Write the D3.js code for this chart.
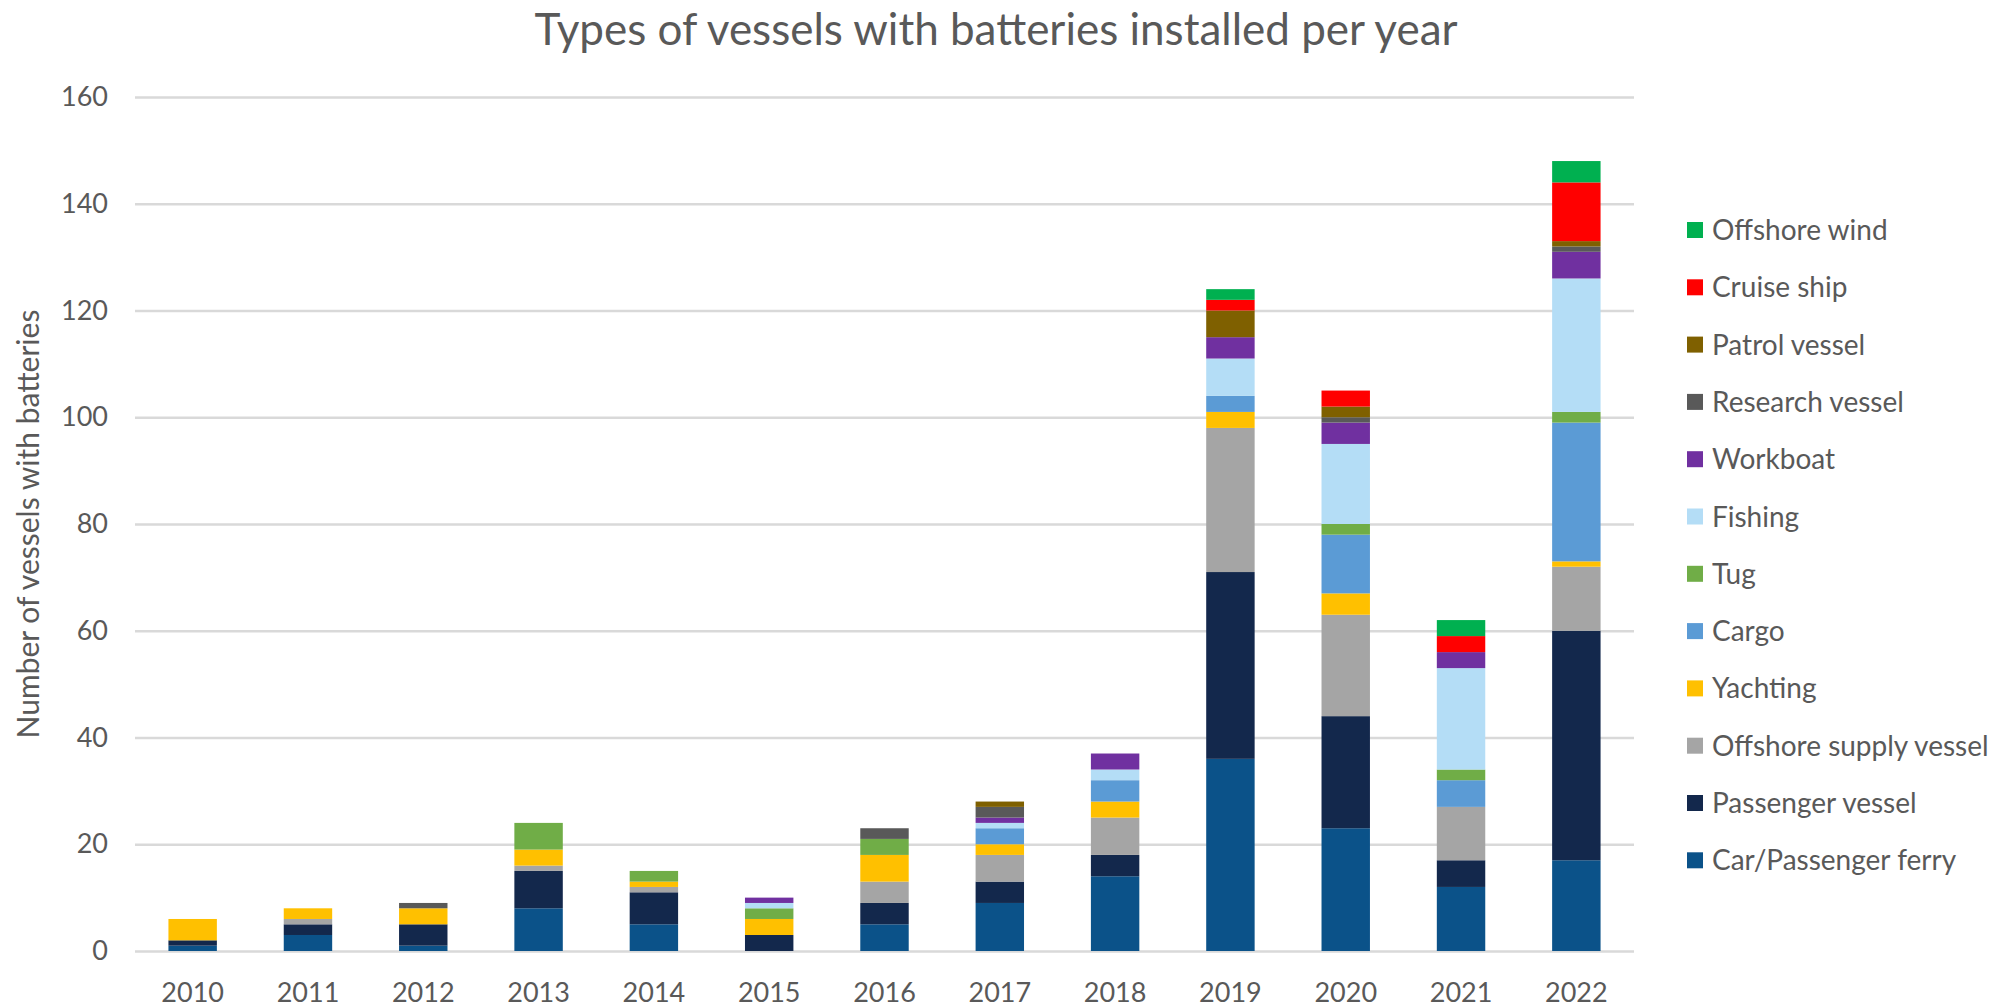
<!DOCTYPE html>
<html>
<head>
<meta charset="utf-8">
<script src="https://cdn.jsdelivr.net/npm/d3@7"></script>
<style>
	body { margin: 0; background: #fff; }
	text { font-family: Lato, "Open Sans", sans-serif; fill: #595959; }
</style>
</head>
<body>
<div id="vis"></div>
<script>
// data
var years = ["2010","2011","2012","2013","2014","2015","2016","2017","2018","2019","2020","2021","2022"];

// bottom to top of each stack
var seriesNames = ["Car/Passenger ferry", "Passenger vessel", "Offshore supply vessel", "Yachting", "Cargo", "Tug",
	"Fishing", "Workboat", "Research vessel", "Patrol vessel", "Cruise ship", "Offshore wind"];

var ferry     = [1, 3, 1, 8, 5, 0, 5, 9, 14, 36, 23, 12, 17];
var passenger = [1, 2, 4, 7, 6, 3, 4, 4, 4, 35, 21, 5, 43];
var supply    = [0, 1, 0, 1, 1, 0, 4, 5, 7, 27, 19, 10, 12];
var yachting  = [4, 2, 3, 3, 1, 3, 5, 2, 3, 3, 4, 0, 1];
var cargo     = [0, 0, 0, 0, 0, 0, 0, 3, 4, 3, 11, 5, 26];
var tug       = [0, 0, 0, 5, 2, 2, 3, 0, 0, 0, 2, 2, 2];
var fishing   = [0, 0, 0, 0, 0, 1, 0, 1, 2, 7, 15, 19, 25];
var workboat  = [0, 0, 0, 0, 0, 1, 0, 1, 3, 4, 4, 3, 5];
var research  = [0, 0, 1, 0, 0, 0, 2, 2, 0, 0, 1, 0, 1];
var patrol    = [0, 0, 0, 0, 0, 0, 0, 1, 0, 5, 2, 0, 1];
var cruise    = [0, 0, 0, 0, 0, 0, 0, 0, 0, 2, 3, 3, 11];
var wind      = [0, 0, 0, 0, 0, 0, 0, 0, 0, 2, 0, 3, 4];

var seriesValues = [ferry, passenger, supply, yachting, cargo, tug, fishing, workboat, research, patrol, cruise, wind];
var yTicks = [0, 20, 40, 60, 80, 100, 120, 140, 160];

var colors = d3.scaleOrdinal()
	.domain(seriesNames)
	.range(["#0b5289", "#13284c", "#a5a5a5", "#ffc000", "#5b9bd5", "#70ad47",
		"#b4ddf6", "#7030a0", "#595959", "#7f6000", "#ff0000", "#00b050"]);

// Layout Settings
var W = 2000, H = 1007;
var margin = {top: 97, right: 366, bottom: 56, left: 135},
	width = W - margin.left - margin.right,
	height = H - margin.top - margin.bottom;

var svg = d3.select("#vis")
	.append("svg")
	.attr("width", W)
	.attr("height", H);

// rows for the stack
var table = years.map(function(yr, i) {
	var row = {year: yr};
	seriesNames.forEach(function(name, k) { row[name] = seriesValues[k][i]; });
	return row;
});
var stacked = d3.stack().keys(seriesNames)(table);

var x = d3.scaleBand()
	.domain(years)
	.range([0, width])
	.paddingInner(0.58)
	.paddingOuter(0.29);

var y = d3.scaleLinear()
	.domain([0, 160])
	.range([height, 0]);

var plot = svg.append("g")
	.attr("transform", "translate(" + margin.left + "," + margin.top + ")");

// gridlines + y labels
var yAxis = plot.append("g")
	.attr("class", "y axis")
	.call(d3.axisLeft(y).tickValues(yTicks).tickSize(-width).tickPadding(27));
yAxis.select(".domain").remove();
yAxis.selectAll("line").attr("stroke", "#d9d9d9").attr("stroke-width", 2.5);
yAxis.selectAll("text").style("font-size", "27px").attr("fill", "#595959");

// stacked bars
plot.append("g")
	.selectAll("g")
	.data(stacked)
	.enter()
	.append("g")
	.attr("fill", function(d) { return colors(d.key); })
	.selectAll("rect")
	.data(function(d) { return d; })
	.enter()
	.append("rect")
	.attr("x", function(d) { return x(d.data.year); })
	.attr("y", function(d) { return y(d[1]); })
	.attr("width", x.bandwidth())
	.attr("height", function(d) { return y(d[0]) - y(d[1]); });

// x labels
var xAxis = plot.append("g")
	.attr("transform", "translate(0," + height + ")")
	.call(d3.axisBottom(x).tickSize(0).tickPadding(32));
xAxis.select(".domain").remove();
xAxis.selectAll("text").style("font-size", "27px").attr("fill", "#595959");

// title
svg.append("text")
	.attr("x", 996)
	.attr("y", 45)
	.attr("text-anchor", "middle")
	.style("font-size", "44px")
	.text("Types of vessels with batteries installed per year");

// y axis title
svg.append("text")
	.attr("transform", "translate(28," + (margin.top + height / 2) + ") rotate(-90)")
	.attr("dy", "0.35em")
	.attr("text-anchor", "middle")
	.style("font-size", "30px")
	.text("Number of vessels with batteries");

// legend, top entry = top of stack
var legendNames = seriesNames.slice().reverse();
var legend = svg.append("g")
	.attr("class", "legend")
	.selectAll("g")
	.data(legendNames)
	.enter()
	.append("g")
	.attr("transform", function(d, i) { return "translate(1687," + (230 + i * 57.3) + ")"; });

legend.append("rect")
	.attr("x", 0)
	.attr("y", -8)
	.attr("width", 16)
	.attr("height", 16)
	.attr("fill", function(d) { return colors(d); });

legend.append("text")
	.attr("x", 25)
	.attr("dy", "0.36em")
	.style("font-size", "28px")
	.text(function(d) { return d; });
</script>
</body>
</html>
